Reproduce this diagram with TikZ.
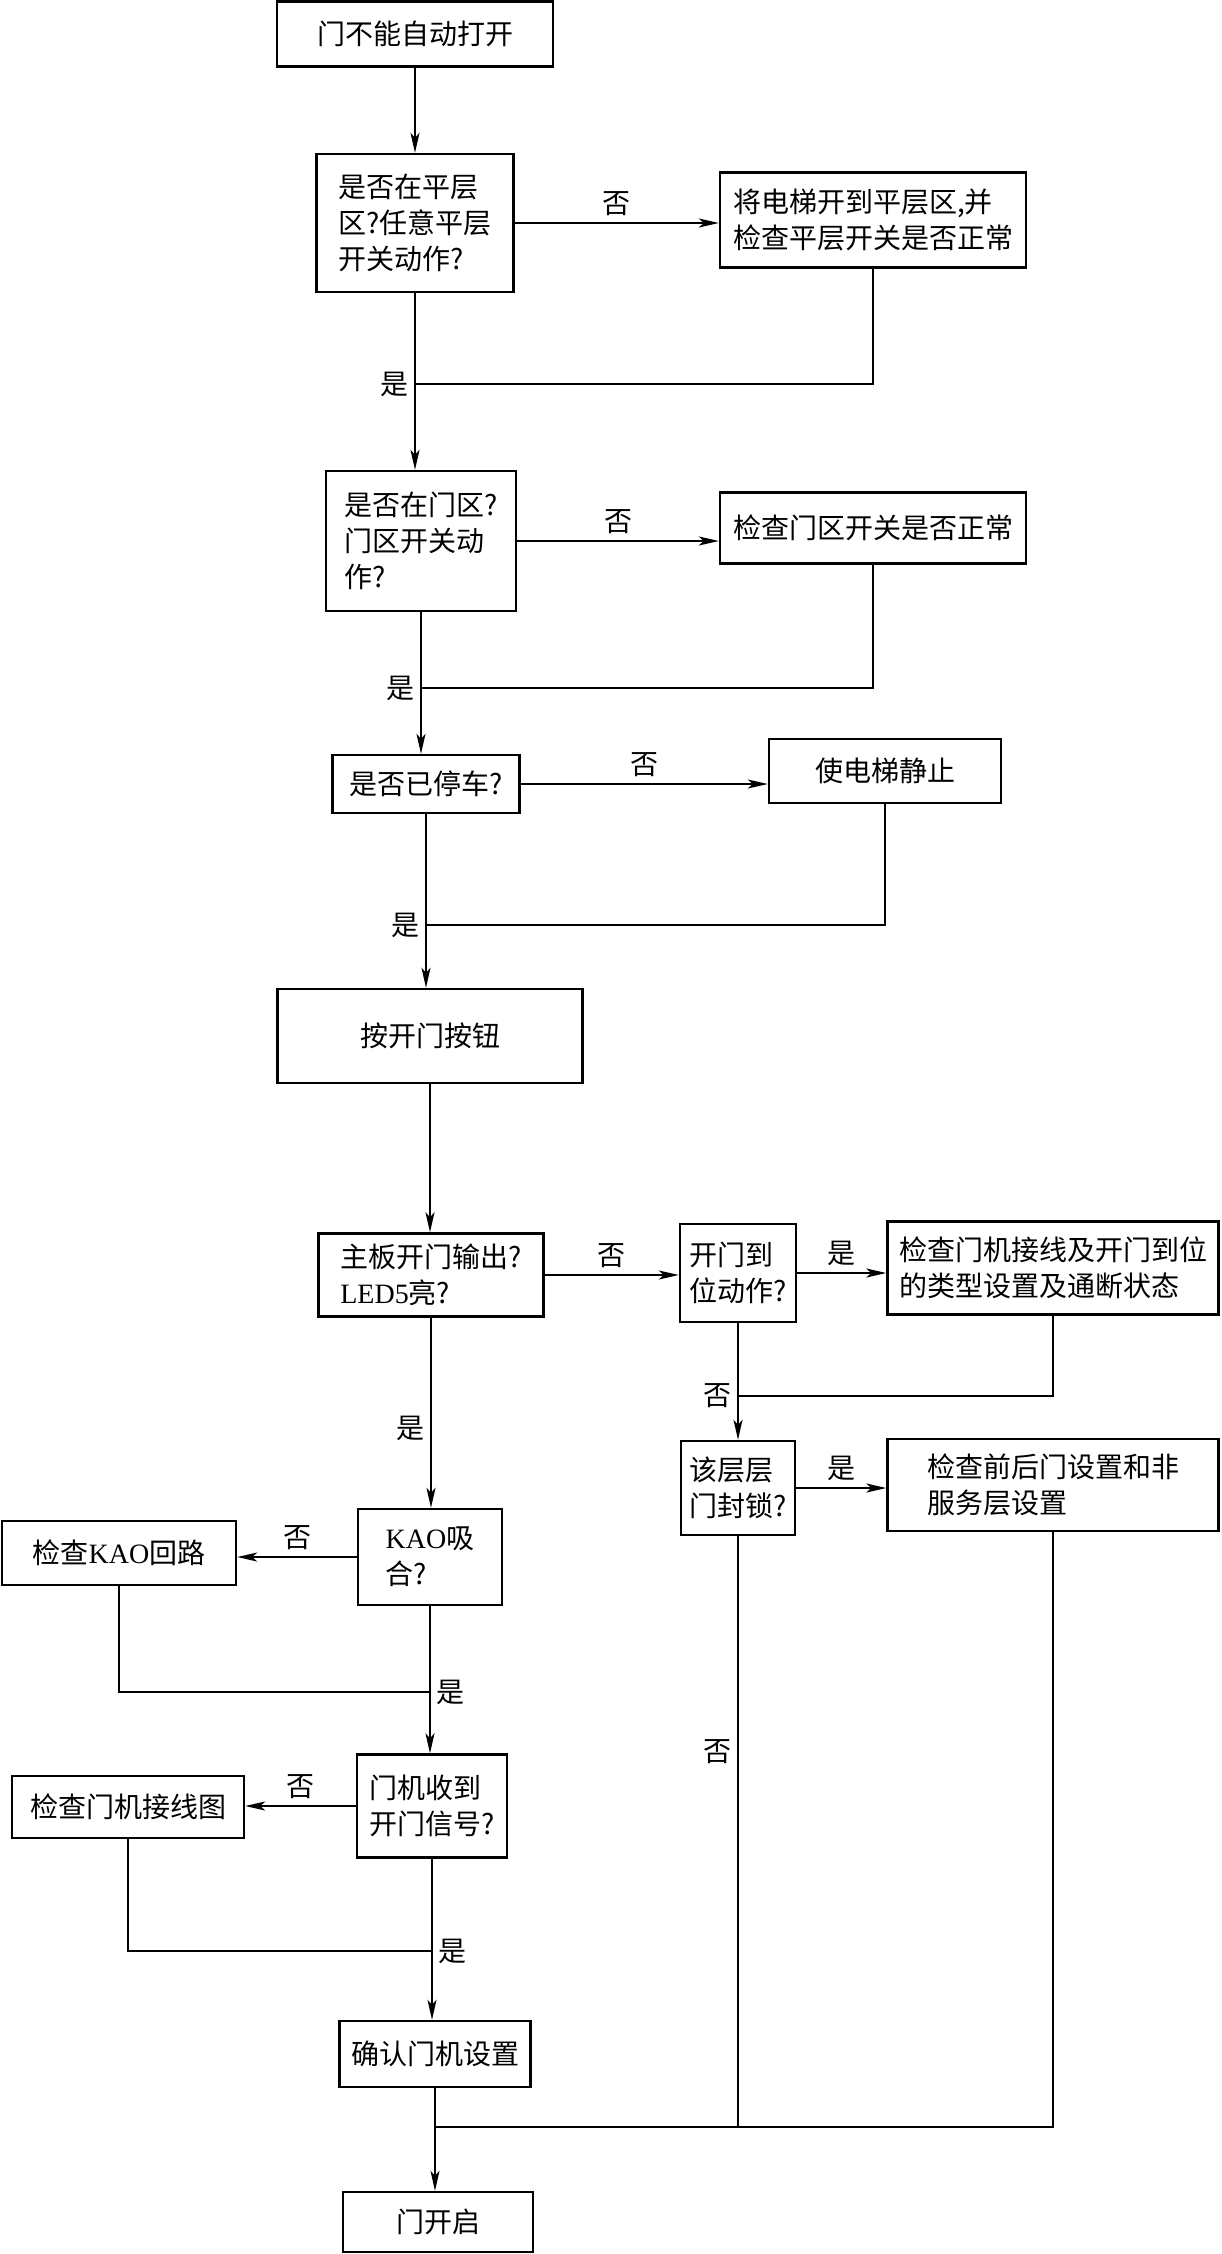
\documentclass[tikz,border=0pt]{standalone}
\usepackage{fontspec}
\setmainfont{Noto Sans CJK SC}
\newfontfamily\latina{Liberation Serif}
\usetikzlibrary{arrows.meta}
\begin{document}
\begin{tikzpicture}[x=0.5pt, y=-0.5pt, font=\fontsize{14pt}{18pt}\selectfont,
		caja/.style={draw, line width=1.2pt, align=left, inner sep=0pt},
		linea/.style={line width=1pt},
		flecha/.style={-{Stealth[length=10pt, width=4.5pt, inset=2.5pt]}},
		rotulo/.style={inner sep=3pt}]
	\path[use as bounding box, fill=white] (0,0) rectangle (1221,2254);
	% cajas: nombre/x/y/ancho/alto/texto (en pixeles)
	\foreach \n/\x/\y/\w/\h/\t in {
		b1/415/34/276/65/{门不能自动打开},
		b2/415/223/197/138/{是否在平层\\区?任意平层\\开关动作?},
		b3/873/220/306/95/{将电梯开到平层区,并\\检查平层开关是否正常},
		b4/421/541/190/140/{是否在门区?\\门区开关动\\作?},
		b5/873/528/306/71/{检查门区开关是否正常},
		b6/426/784/187/58/{是否已停车?},
		b7/885/771/232/64/{使电梯静止},
		b8/430/1036/305/94/{按开门按钮},
		b9/431/1275/225/83/{主板开门输出?\\{\latina LED5}亮?},
		b10/738/1273/116/98/{开门到\\位动作?},
		b11/1053/1268/331/93/{检查门机接线及开门到位\\的类型设置及通断状态},
		b12/738/1488/114/94/{该层层\\门封锁?},
		b13/1053/1485/331/92/{检查前后门设置和非\\服务层设置},
		b14/430/1557/144/96/{{\latina KAO}吸\\合?},
		b15/119/1553/234/64/{检查{\latina KAO}回路},
		b16/432/1806/150/103/{门机收到\\开门信号?},
		b17/128/1807/232/62/{检查门机接线图},
		b18/435/2054/191/66/{确认门机设置},
		b19/438/2222/190/60/{门开启}} {
		\node[caja, minimum width=\w*0.5pt, minimum height=\h*0.5pt] (\n) at (\x,\y) {\t};
	}
	% puntos de union
	\coordinate (j1) at (415,384);
	\coordinate (j2) at (421,688);
	\coordinate (j3) at (426,925);
	\coordinate (j4) at (738,1396);
	\coordinate (j5) at (430,1692);
	\coordinate (j6) at (432,1951);
	\coordinate (j7) at (435,2127);
	% columna principal
	\foreach \a/\b in {b1/b2, b2/b4, b4/b6, b6/b8, b8/b9, b14/b16, b16/b18, b18/b19, b10/b12}
		\draw[linea, flecha] (\a.south) -- (\a.south |- \b.north);
	\draw[linea, flecha] (b9.south) -- (b9.south |- b14.north)
		node[rotulo, left, pos=0.58] (si4) {是};
	% ramas laterales
	\foreach \a/\b/\r in {b2/b3/否, b4/b5/否, b6/b7/否, b9/b10/否, b10/b11/是, b12/b13/是}
		\draw[linea, flecha] (\a.east) -- (\a.east -| \b.west)
			node[rotulo, above, midway] (r\a) {\r};
	\foreach \a/\b in {b14/b15, b16/b17}
		\draw[linea, flecha] (\a.west) -- (\a.west -| \b.east)
			node[rotulo, above, midway] (r\a) {否};
	% retornos
	\foreach \a/\j in {b3/j1, b5/j2, b7/j3, b11/j4, b15/j5, b17/j6, b13/j7}
		\draw[linea] (\a.south) |- (\j);
	\draw[linea] (b12.south) -- (b12.south |- j7)
		node[rotulo, left, pos=0.365] (no12) {否};
	\node[rotulo, left] (si1) at (j1) {是};
	\node[rotulo, left] (si2) at (j2) {是};
	\node[rotulo, left] (si3) at (j3) {是};
	\node[rotulo, left] (no10) at (j4) {否};
	\node[rotulo, right] (si5) at (j5) {是};
	\node[rotulo, right] (si6) at (j6) {是};
\end{tikzpicture}
\end{document}
